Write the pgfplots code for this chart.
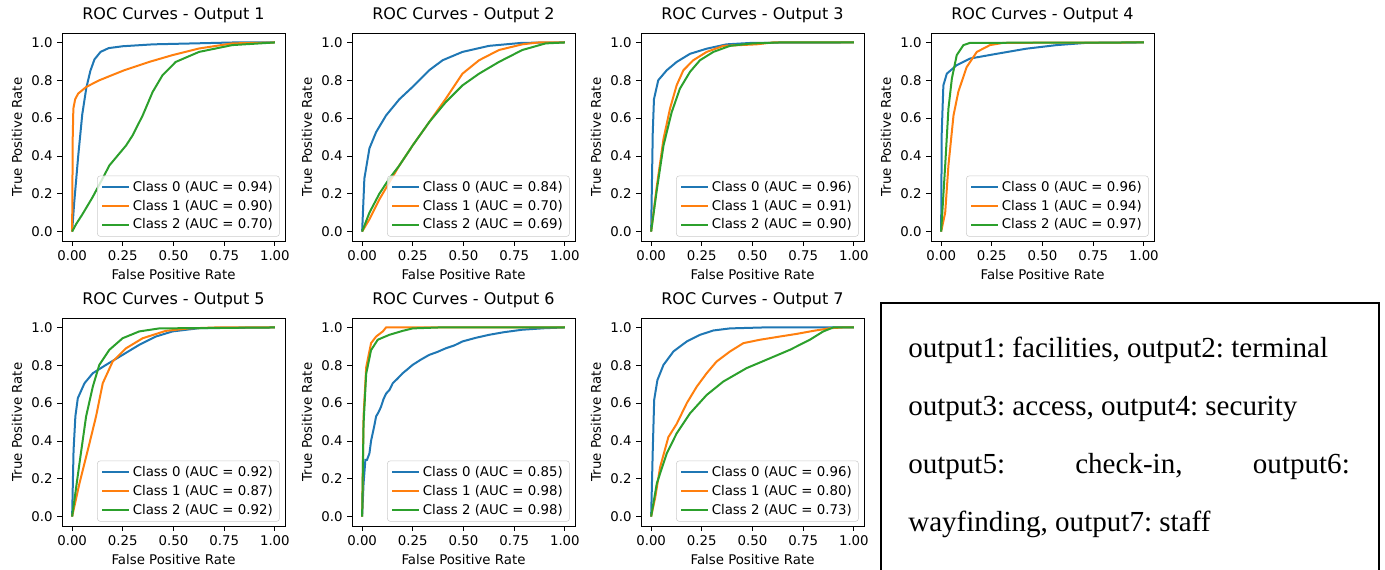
\documentclass[border=0pt]{standalone}
\usepackage{fontspec}
\setmainfont{DejaVu Sans}
\newfontfamily\timesfont{Liberation Serif}
\usepackage{pgfplots}
\pgfplotsset{compat=1.18}

\definecolor{mplblue}{HTML}{1F77B4}
\definecolor{mplorange}{HTML}{FF7F0E}
\definecolor{mplgreen}{HTML}{2CA02C}

\pgfplotsset{
  c0/.style={draw=mplblue, no marks, line width=1.5pt},
  c1/.style={draw=mplorange, no marks, line width=1.5pt},
  c2/.style={draw=mplgreen, no marks, line width=1.5pt},
  roc/.style={
    width=167.25pt, height=156pt, scale only axis,
    anchor=north west,
    xmin=-0.05, xmax=1.05, ymin=-0.05, ymax=1.05,
    xtick={0,0.25,0.5,0.75,1}, ytick={0,0.2,0.4,0.6,0.8,1},
    xticklabel style={/pgf/number format/.cd, fixed, fixed zerofill, precision=2},
    yticklabel style={/pgf/number format/.cd, fixed, fixed zerofill, precision=1},
    /pgf/number format/assume math mode=true,
    tick align=outside, tick pos=left,
    major tick length=3.6pt,
    every tick/.style={black, line width=0.6pt},
    axis line style={line width=0.6pt},
    ticklabel style={font=\fontsize{10}{12}\selectfont},
    label style={font=\fontsize{10}{12}\selectfont},
    title style={font=\fontsize{12}{14}\selectfont, yshift=-2pt},
    xlabel={False Positive Rate}, ylabel={True Positive Rate},
    legend cell align=left,
    legend image code/.code={\draw[#1] (0pt,0pt) -- (20pt,0pt);},
    legend style={at={(1,0)}, anchor=south east, xshift=-4pt, yshift=3.3pt,
      draw=black!20, fill=white, fill opacity=0.8, text opacity=1,
      rounded corners=2pt, font=\fontsize{10}{12}\selectfont,
      nodes={inner sep=2pt}, row sep=1pt},
  }
}

\begin{document}
\begin{tikzpicture}
\useasboundingbox (0,0) rectangle (1038.75pt,-427.5pt);

% Output 1
\begin{axis}[roc, at={(46.5pt,-24.75pt)}, title={ROC Curves - Output 1}]
\addplot[c0] coordinates {(0,0) (0.01,0.15) (0.03,0.4) (0.05,0.62) (0.07,0.76) (0.09,0.85) (0.11,0.91) (0.14,0.95) (0.18,0.97) (0.25,0.98) (0.4,0.99) (0.6,0.995) (0.8,1) (1,1)};
\addplot[c1] coordinates {(0,0) (0.003,0.5) (0.006,0.65) (0.015,0.70) (0.03,0.73) (0.07,0.765) (0.134,0.80) (0.257,0.853) (0.38,0.897) (0.495,0.933) (0.626,0.968) (0.79,0.995) (1,1)};
\addplot[c2] coordinates {(0,0) (0.02,0.04) (0.05,0.09) (0.1,0.18) (0.15,0.28) (0.184,0.35) (0.266,0.455) (0.298,0.508) (0.348,0.614) (0.397,0.738) (0.446,0.827) (0.511,0.897) (0.626,0.95) (0.79,0.986) (1,1)};
\legend{Class 0 (AUC = 0.94), Class 1 (AUC = 0.90), Class 2 (AUC = 0.70)}
\end{axis}

% Output 2
\begin{axis}[roc, at={(264pt,-24.75pt)}, title={ROC Curves - Output 2}]
\addplot[c0] coordinates {(0,0) (0.011,0.28) (0.036,0.44) (0.069,0.526) (0.118,0.614) (0.184,0.70) (0.249,0.765) (0.331,0.853) (0.397,0.906) (0.495,0.95) (0.626,0.982) (0.79,0.998) (1,1)};
\addplot[c1] coordinates {(0,0) (0.036,0.065) (0.085,0.17) (0.134,0.26) (0.184,0.35) (0.249,0.455) (0.331,0.579) (0.413,0.703) (0.495,0.835) (0.577,0.906) (0.675,0.96) (0.79,0.99) (0.87,1) (1,1)};
\addplot[c2] coordinates {(0,0) (0.036,0.1) (0.085,0.2) (0.134,0.28) (0.184,0.35) (0.249,0.455) (0.331,0.579) (0.413,0.685) (0.495,0.773) (0.577,0.835) (0.675,0.897) (0.79,0.96) (0.905,0.995) (1,1)};
\legend{Class 0 (AUC = 0.84), Class 1 (AUC = 0.70), Class 2 (AUC = 0.69)}
\end{axis}

% Output 3
\begin{axis}[roc, at={(480.75pt,-24.75pt)}, title={ROC Curves - Output 3}]
\addplot[c0] coordinates {(0,0) (0.008,0.525) (0.014,0.70) (0.035,0.80) (0.077,0.853) (0.126,0.897) (0.192,0.94) (0.274,0.967) (0.372,0.99) (0.5,0.998) (1,1)};
\addplot[c1] coordinates {(0,0) (0.028,0.24) (0.061,0.49) (0.093,0.65) (0.126,0.774) (0.159,0.853) (0.208,0.906) (0.274,0.95) (0.356,0.982) (0.438,0.986) (0.52,0.99) (0.6,1) (1,1)};
\addplot[c2] coordinates {(0,0) (0.028,0.22) (0.061,0.455) (0.101,0.63) (0.142,0.756) (0.192,0.845) (0.241,0.906) (0.307,0.95) (0.389,0.982) (0.5,0.995) (0.635,1) (1,1)};
\legend{Class 0 (AUC = 0.96), Class 1 (AUC = 0.91), Class 2 (AUC = 0.90)}
\end{axis}

% Output 4
\begin{axis}[roc, at={(698.25pt,-24.75pt)}, title={ROC Curves - Output 4}]
\addplot[c0] coordinates {(0,0) (0.003,0.525) (0.011,0.773) (0.028,0.835) (0.077,0.88) (0.143,0.915) (0.274,0.94) (0.42,0.967) (0.57,0.986) (0.718,0.998) (1,1)};
\addplot[c1] coordinates {(0,0) (0.02,0.1) (0.036,0.35) (0.061,0.614) (0.085,0.74) (0.126,0.87) (0.176,0.95) (0.241,0.986) (0.307,0.998) (1,1)};
\addplot[c2] coordinates {(0,0) (0.02,0.35) (0.036,0.65) (0.053,0.81) (0.077,0.933) (0.11,0.986) (0.143,0.998) (1,1)};
\legend{Class 0 (AUC = 0.96), Class 1 (AUC = 0.94), Class 2 (AUC = 0.97)}
\end{axis}

% Output 5
\begin{axis}[roc, at={(46.5pt,-238.5pt)}, title={ROC Curves - Output 5}]
\addplot[c0] coordinates {(0,0) (0.007,0.35) (0.016,0.53) (0.028,0.626) (0.061,0.705) (0.102,0.758) (0.167,0.802) (0.249,0.855) (0.331,0.908) (0.413,0.952) (0.495,0.979) (0.626,0.996) (1,1)};
\addplot[c1] coordinates {(0,0) (0.036,0.175) (0.077,0.35) (0.118,0.53) (0.151,0.705) (0.2,0.82) (0.266,0.89) (0.348,0.943) (0.462,0.982) (0.577,0.995) (0.708,1) (1,1)};
\addplot[c2] coordinates {(0,0) (0.036,0.28) (0.069,0.53) (0.102,0.687) (0.134,0.802) (0.184,0.882) (0.249,0.943) (0.331,0.979) (0.43,0.995) (1,1)};
\legend{Class 0 (AUC = 0.92), Class 1 (AUC = 0.87), Class 2 (AUC = 0.92)}
\end{axis}

% Output 6
\begin{axis}[roc, at={(264pt,-238.5pt)}, title={ROC Curves - Output 6}]
\addplot[c0] coordinates {(0,0) (0.007,0.175) (0.016,0.30) (0.024,0.30) (0.036,0.334) (0.044,0.40) (0.052,0.44) (0.060,0.48) (0.069,0.53) (0.080,0.55) (0.093,0.58) (0.105,0.62) (0.118,0.65) (0.135,0.67) (0.151,0.705) (0.175,0.73) (0.2,0.758) (0.225,0.78) (0.249,0.802) (0.29,0.83) (0.331,0.855) (0.37,0.87) (0.413,0.89) (0.455,0.905) (0.495,0.926) (0.56,0.945) (0.626,0.961) (0.70,0.975) (0.79,0.988) (0.9,0.996) (1,1)};
\addplot[c1] coordinates {(0,0) (0.007,0.53) (0.02,0.79) (0.044,0.917) (0.069,0.952) (0.102,0.979) (0.118,1) (1,1)};
\addplot[c2] coordinates {(0,0) (0.007,0.49) (0.02,0.755) (0.044,0.88) (0.077,0.935) (0.134,0.961) (0.2,0.982) (0.249,0.995) (0.38,1) (1,1)};
\legend{Class 0 (AUC = 0.85), Class 1 (AUC = 0.98), Class 2 (AUC = 0.98)}
\end{axis}

% Output 7
\begin{axis}[roc, at={(480.75pt,-238.5pt)}, title={ROC Curves - Output 7}]
\addplot[c0] coordinates {(0,0) (0.008,0.35) (0.015,0.617) (0.031,0.722) (0.061,0.802) (0.11,0.873) (0.176,0.926) (0.241,0.961) (0.307,0.984) (0.389,0.995) (0.553,1) (1,1)};
\addplot[c1] coordinates {(0,0) (0.02,0.1) (0.044,0.26) (0.085,0.42) (0.126,0.49) (0.176,0.6) (0.225,0.687) (0.274,0.758) (0.323,0.82) (0.389,0.873) (0.455,0.917) (0.537,0.935) (0.635,0.952) (0.718,0.966) (0.8,0.982) (0.882,0.996) (0.947,1) (1,1)};
\addplot[c2] coordinates {(0,0) (0.028,0.175) (0.077,0.334) (0.126,0.44) (0.192,0.546) (0.274,0.643) (0.356,0.714) (0.471,0.785) (0.586,0.837) (0.685,0.882) (0.783,0.935) (0.849,0.979) (0.898,1) (1,1)};
\legend{Class 0 (AUC = 0.96), Class 1 (AUC = 0.80), Class 2 (AUC = 0.73)}
\end{axis}

% text box
\draw[line width=0.8pt] (660.75pt,-440pt) -- (660.75pt,-227.25pt) -- (1034.25pt,-227.25pt) -- (1034.25pt,-440pt);
\begin{scope}[every node/.style={anchor=base west, inner sep=0pt, font=\timesfont\fontsize{21.8}{26}\selectfont\frenchspacing}]
\node at (681pt,-267.75pt) {output1: facilities, output2: terminal};
\node at (681pt,-311.25pt) {output3: access, output4: security};
\node at (681pt,-354.75pt) {output5:};
\node at (806.25pt,-354.75pt) {check-in,};
\node at (939.5pt,-354.75pt) {output6:};
\node at (681pt,-398.25pt) {wayfinding, output7: staff};
\end{scope}
\end{tikzpicture}
\end{document}
